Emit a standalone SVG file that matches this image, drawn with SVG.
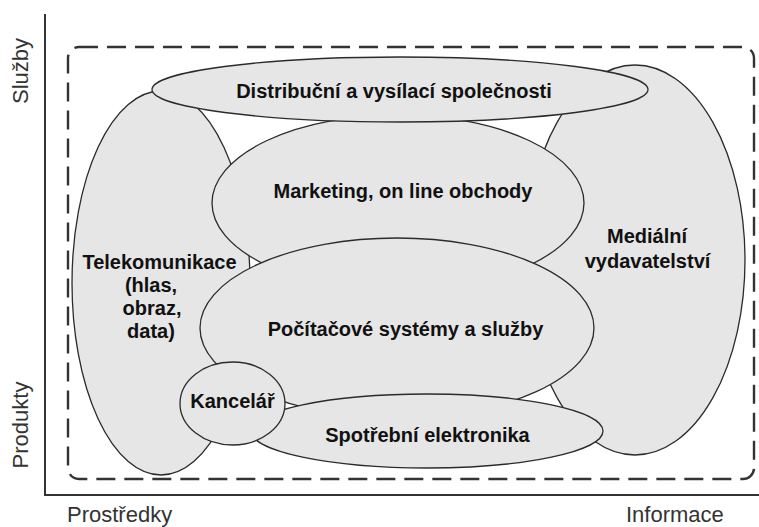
<svg xmlns="http://www.w3.org/2000/svg" width="759" height="527" viewBox="0 0 759 527">
<style>
.shape{fill:#e6e6e6;stroke:#2b2b2b;stroke-width:1.3}
.lbl{font-family:"Liberation Sans",Arial,sans-serif;font-weight:bold;font-size:20px;fill:#111;text-anchor:middle}
.ax{font-family:"Liberation Sans",Arial,sans-serif;font-size:22px;fill:#333}
.axis{stroke:#333;stroke-width:2;fill:none}
.frame{fill:none;stroke:#333;stroke-width:2.4;stroke-dasharray:19 9}
</style>
<rect width="759" height="527" fill="#fff"/>
<g id="axes">
<line class="axis" x1="45" y1="14" x2="45" y2="495"/>
<line class="axis" x1="44" y1="495" x2="759" y2="495"/>
<text class="ax" transform="translate(28,71) rotate(-90)" text-anchor="middle">Služby</text>
<text class="ax" transform="translate(28,425) rotate(-90)" text-anchor="middle">Produkty</text>
<text class="ax" x="67" y="522">Prostředky</text>
<text class="ax" x="626" y="522">Informace</text>
</g>
<rect id="frame" class="frame" x="68" y="47" width="686" height="432" rx="11"/>
<g id="telekomunikace">
<ellipse class="shape" cx="161" cy="283" rx="89" ry="192"/>
<text class="lbl" x="159.5" y="269">Telekomunikace</text>
<text class="lbl" x="151" y="292">(hlas,</text>
<text class="lbl" x="152" y="315">obraz,</text>
<text class="lbl" x="151" y="338">data)</text>
</g>
<g id="medialni">
<ellipse class="shape" cx="635" cy="260" rx="110" ry="195"/>
<text class="lbl" x="647" y="243">Mediální</text>
<text class="lbl" x="647.5" y="268">vydavatelství</text>
</g>
<g id="marketing">
<ellipse class="shape" cx="398" cy="203" rx="186" ry="88"/>
<text class="lbl" x="403" y="198">Marketing, on line obchody</text>
</g>
<g id="distribucni">
<ellipse class="shape" cx="400" cy="89.5" rx="248" ry="32.5"/>
<text class="lbl" x="394" y="98">Distribuční a vysílací společnosti</text>
</g>
<g id="pocitacove">
<ellipse class="shape" cx="397" cy="328" rx="197" ry="90"/>
<text class="lbl" x="405.5" y="336">Počítačové systémy a služby</text>
</g>
<g id="spotrebni">
<ellipse class="shape" cx="427" cy="431" rx="176" ry="37"/>
<text class="lbl" x="427.5" y="442">Spotřební elektronika</text>
</g>
<g id="kancelar">
<ellipse class="shape" cx="232.5" cy="403.5" rx="52.5" ry="41.5"/>
<text class="lbl" x="232.5" y="408">Kancelář</text>
</g>
<g id="connectors"></g>
</svg>
